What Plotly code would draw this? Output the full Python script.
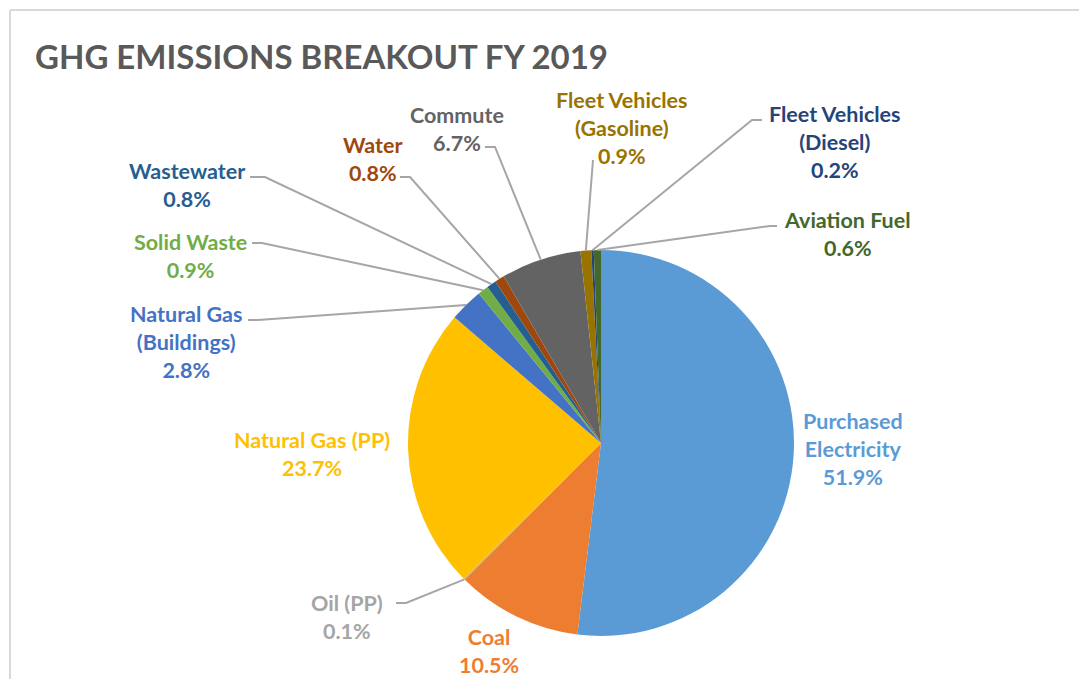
import numpy as np
import plotly.graph_objects as go

# --- datos ---
categorias = ["Purchased Electricity", "Coal", "Oil (PP)", "Natural Gas (PP)",
              "Natural Gas (Buildings)", "Solid Waste", "Wastewater", "Water",
              "Commute", "Fleet Vehicles (Gasoline)", "Fleet Vehicles (Diesel)",
              "Aviation Fuel"]
valores = [51.9, 10.5, 0.1, 23.7, 2.8, 0.9, 0.8, 0.8, 6.7, 0.9, 0.2, 0.6]
colores = ["#5B9BD5", "#ED7D31", "#A5A5A5", "#FFC000", "#4472C4", "#70AD47",
           "#255E91", "#9E480E", "#636363", "#997300", "#264478", "#43682B"]

W, H = 1087, 679
OFF = 8  # margen por defecto del <body> de la pagina
cx, cy, R = 601, 443, 193  # centro y radio del pastel en px

# texto de cada etiqueta (con saltos de linea) y su posicion en px
etiquetas = {
    "Purchased Electricity": ("Purchased<br>Electricity", 853, 449),
    "Coal": ("Coal", 489, 651),
    "Oil (PP)": ("Oil (PP)", 347, 617),
    "Natural Gas (PP)": ("Natural Gas (PP)", 312, 454),
    "Natural Gas (Buildings)": ("Natural Gas<br>(Buildings)", 186, 342),
    "Solid Waste": ("Solid Waste", 190, 256),
    "Wastewater": ("Wastewater", 187, 185),
    "Water": ("Water", 372, 159),
    "Commute": ("Commute", 457, 129),
    "Fleet Vehicles (Gasoline)": ("Fleet Vehicles<br>(Gasoline)", 622, 128),
    "Fleet Vehicles (Diesel)": ("Fleet Vehicles<br>(Diesel)", 835, 142),
    "Aviation Fuel": ("Aviation Fuel", 847, 234),
}
# lineas guia: punto de anclaje junto al texto (x, y) y codo horizontal
guias = {
    "Oil (PP)": (396, 603, 406),
    "Natural Gas (Buildings)": (248, 320, 258),
    "Solid Waste": (252, 243, 262),
    "Wastewater": (250, 177, 265),
    "Water": (400, 177, 410),
    "Commute": (485, 147, 495),
    "Fleet Vehicles (Gasoline)": (593, 160, 593),
    "Fleet Vehicles (Diesel)": (762, 120, 752),
    "Aviation Fuel": (777, 226, 770),
}

def px_a_papel(x, y):
    return (x - OFF) / W, 1 - (y - OFF) / H

fig = go.Figure(go.Pie(
    labels=categorias, values=valores, sort=False, direction="clockwise",
    rotation=0, marker=dict(colors=colores, line=dict(width=0)),
    textinfo="none", hoverinfo="label+percent",
    domain=dict(x=[(cx - R - OFF) / W, (cx + R - OFF) / W],
                y=[1 - (cy + R - OFF) / H, 1 - (cy - R - OFF) / H]),
    showlegend=False,
))

total = sum(valores)
acum = 0
anotaciones, formas = [], []
for cat, v, col in zip(categorias, valores, colores):
    ang = 2 * np.pi * (acum + v / 2) / total
    acum += v
    ex, ey = cx + R * np.sin(ang), cy - R * np.cos(ang)
    texto, lx, ly = etiquetas[cat]
    x, y = px_a_papel(lx, ly)
    anotaciones.append(dict(
        text=f"<b>{texto}<br>{v:.1f}%</b>", x=x, y=y, xref="paper", yref="paper",
        xanchor="center", yanchor="middle", showarrow=False, align="center",
        font=dict(family="Lato", size=21.5, color=col)))
    if cat in guias:
        ax, ay, bx = guias[cat]
        p = [px_a_papel(ax, ay), px_a_papel(bx, ay), px_a_papel(ex, ey)]
        path = "M " + " L ".join(f"{a:.5f},{b:.5f}" for a, b in p)
        formas.append(dict(type="path", path=path, xref="paper", yref="paper",
                           line=dict(color="#A6A6A6", width=2)))

# marco del grafico
x0, y0 = px_a_papel(10, 10)
formas.append(dict(type="line", xref="paper", yref="paper", x0=x0, x1=1,
                   y0=y0, y1=y0, line=dict(color="#D9D9D9", width=2)))
formas.append(dict(type="line", xref="paper", yref="paper", x0=x0, x1=x0,
                   y0=0, y1=y0, line=dict(color="#D9D9D9", width=2)))

tx, ty = px_a_papel(33, 56)
anotaciones.append(dict(
    text="<b>GHG EMISSIONS BREAKOUT FY 2019</b>", x=tx, y=ty,
    xref="paper", yref="paper", xanchor="left", yanchor="middle", showarrow=False,
    font=dict(family="Lato", size=33, color="#595959")))

fig.update_layout(
    width=W, height=H, margin=dict(l=0, r=0, t=0, b=0),
    paper_bgcolor="white", plot_bgcolor="white",
    annotations=anotaciones, shapes=formas,
)

fig.write_html("out.html")
